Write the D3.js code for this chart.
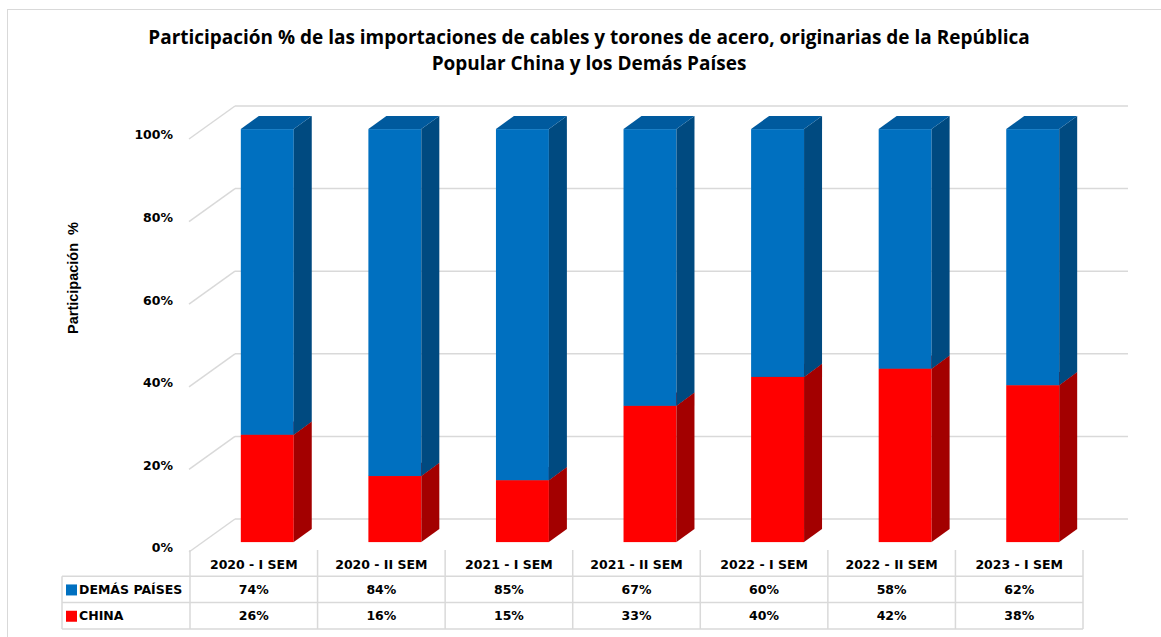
<!DOCTYPE html>
<html>
<head>
<meta charset="utf-8">
<script src="https://cdn.jsdelivr.net/npm/d3@7"></script>
<style>
  body { margin: 0; background: #fff; }
  svg { display: block; }
</style>
</head>
<body>
<div id="chart"></div>
<script>
var categories = ['2020 - I SEM', '2020 - II SEM', '2021 - I SEM', '2021 - II SEM', '2022 - I SEM', '2022 - II SEM', '2023 - I SEM'];
var china = [26, 16, 15, 33, 40, 42, 38];
var demas = [74, 84, 85, 67, 60, 58, 62];
var yTicks = [0, 20, 40, 60, 80, 100];
var titleLines = ['Participación % de las importaciones de cables y torones de acero, originarias de la República', 'Popular China y los Demás Países'];

var width = 1161;
var height = 637;

// front plane of the plot, plus the depth of the back wall
var plot = { left: 190, right: 1083, top: 139, bottom: 552 };
var depth = { x: 45, y: -33 };
var barDepth = { from: 0.3, to: 0.7 };
var grid = '#d9d9d9';

var svg = d3.select('#chart')
  .append('svg')
    .attr('width', width)
    .attr('height', height);

// chart frame
svg.append('rect')
  .attr('x', 7.5).attr('y', 9.5)
  .attr('width', width).attr('height', height)
  .attr('fill', 'none')
  .attr('stroke', grid)
  .attr('stroke-width', 1);

var xScale = d3.scaleBand()
  .domain(categories)
  .range([plot.left, plot.right])
  .paddingInner(0.585)
  .paddingOuter(0.2925);

var yScale = d3.scaleLinear()
  .domain([0, 100])
  .range([plot.bottom, plot.top]);

// title
var title = svg.append('g').attr('class', 'title');
title.selectAll('text')
  .data(titleLines)
  .enter()
  .append('text')
    .attr('x', 589)
    .attr('y', function (d, i) { return 44 + i * 26; })
    .attr('text-anchor', 'middle')
    .attr('font-family', 'Open Sans, sans-serif')
    .attr('font-weight', 'bold')
    .attr('font-size', 17)
    .attr('fill', '#000')
    .text(function (d) { return d; });

// fit first title line to the original width
var first = title.select('text').node();
var fs = 17 * 882 / first.getComputedTextLength();
title.selectAll('text').attr('font-size', fs);

// gridlines: back wall + left wall diagonals
var gridG = svg.append('g').attr('class', 'grid');

gridG.selectAll('.back')
  .data(yTicks)
  .enter()
  .append('line')
    .attr('x1', plot.left + depth.x)
    .attr('x2', plot.right + depth.x)
    .attr('y1', function (d) { return yScale(d) + depth.y; })
    .attr('y2', function (d) { return yScale(d) + depth.y; })
    .attr('stroke', grid)
    .attr('stroke-width', 1.5);

gridG.selectAll('.side')
  .data(yTicks)
  .enter()
  .append('line')
    .attr('x1', plot.left - 1)
    .attr('x2', plot.left + depth.x)
    .attr('y1', function (d) { return yScale(d); })
    .attr('y2', function (d) { return yScale(d) + depth.y; })
    .attr('stroke', grid)
    .attr('stroke-width', 1.5);

// y tick labels
svg.append('g')
  .selectAll('text')
  .data(yTicks)
  .enter()
  .append('text')
    .attr('x', 173)
    .attr('y', function (d) { return yScale(d) - 4; })
    .attr('dy', '0.35em')
    .attr('text-anchor', 'end')
    .attr('font-family', 'DejaVu Sans, sans-serif')
    .attr('font-weight', 'bold')
    .attr('font-size', 12.5)
    .text(function (d) { return d + '%'; });

svg.append('text')
  .attr('transform', 'translate(78,278) rotate(-90)')
  .attr('text-anchor', 'middle')
  .attr('font-family', 'Liberation Sans, sans-serif')
  .attr('font-weight', 'bold')
  .attr('font-size', 14.5)
  .attr('xml:space', 'preserve')
  .text('Participación  %');

// 3D stacked bars
var series = [
  { key: 'CHINA', values: china, front: '#ff0000', side: '#a30000', top: '#c00000' },
  { key: 'DEMÁS PAÍSES', values: demas, front: '#0070c0', side: '#004a80', top: '#005a9e' }
];

var fx = depth.x * barDepth.from, fy = depth.y * barDepth.from;
var bx = depth.x * (barDepth.to - barDepth.from), by = depth.y * (barDepth.to - barDepth.from);

var barsG = svg.append('g').attr('class', 'bars');

categories.forEach(function (cat, i) {
  var base = 0;
  var x0 = xScale(cat) + fx;
  var x1 = x0 + xScale.bandwidth();

  series.forEach(function (s) {
    var v0 = base, v1 = base + s.values[i];
    base = v1;
    var yb = yScale(v0) + fy, yt = yScale(v1) + fy;

    var g = barsG.append('g');

    g.append('rect')
      .attr('x', x0).attr('y', yt)
      .attr('width', x1 - x0).attr('height', yb - yt)
      .attr('fill', s.front);

    g.append('path')
      .attr('d', 'M' + x1 + ',' + yb + 'L' + (x1 + bx) + ',' + (yb + by) +
        'L' + (x1 + bx) + ',' + (yt + by) + 'L' + x1 + ',' + yt + 'Z')
      .attr('fill', s.side);

    g.append('path')
      .attr('d', 'M' + x0 + ',' + yt + 'L' + x1 + ',' + yt +
        'L' + (x1 + bx) + ',' + (yt + by) + 'L' + (x0 + bx) + ',' + (yt + by) + 'Z')
      .attr('fill', s.top);
  });
});

// data table
var rowTop = 550, rowH = 26.3;
var tableRows = [series[1], series[0]];
var tbl = svg.append('g').attr('class', 'table');
var step = xScale.step();

// horizontal borders
[1, 2, 3].forEach(function (r) {
  tbl.append('line')
    .attr('x1', 62).attr('x2', plot.right)
    .attr('y1', rowTop + r * rowH).attr('y2', rowTop + r * rowH)
    .attr('stroke', grid).attr('stroke-width', 1.5);
});

// vertical borders
d3.range(categories.length + 1).forEach(function (c) {
  tbl.append('line')
    .attr('x1', plot.left + c * step).attr('x2', plot.left + c * step)
    .attr('y1', rowTop).attr('y2', rowTop + 3 * rowH)
    .attr('stroke', grid).attr('stroke-width', 1.5);
});
tbl.append('line')
  .attr('x1', 62).attr('x2', 62)
  .attr('y1', rowTop + rowH).attr('y2', rowTop + 3 * rowH)
  .attr('stroke', grid).attr('stroke-width', 1.5);

// header labels
tbl.selectAll('.head')
  .data(categories)
  .enter()
  .append('text')
    .attr('x', function (d) { return xScale(d) + xScale.bandwidth() / 2; })
    .attr('y', rowTop + rowH / 2 + 1)
    .attr('dy', '0.35em')
    .attr('text-anchor', 'middle')
    .attr('font-family', 'DejaVu Sans, sans-serif')
    .attr('font-weight', 'bold')
    .attr('font-size', 12.5)
    .text(function (d) { return d; });

tableRows.forEach(function (s, r) {
  var cy = rowTop + (r + 1) * rowH + rowH / 2;

  tbl.append('rect')
    .attr('x', 66).attr('y', cy - 5)
    .attr('width', 11).attr('height', 11)
    .attr('fill', s.front);

  tbl.append('text')
    .attr('x', 79).attr('y', cy)
    .attr('dy', '0.35em')
    .attr('font-family', 'DejaVu Sans, sans-serif')
    .attr('font-weight', 'bold')
    .attr('font-size', 12.5)
    .text(s.key);

  tbl.selectAll('.v' + r)
    .data(s.values)
    .enter()
    .append('text')
      .attr('x', function (d, i) { return xScale(categories[i]) + xScale.bandwidth() / 2; })
      .attr('y', cy)
      .attr('dy', '0.35em')
      .attr('text-anchor', 'middle')
      .attr('font-family', 'DejaVu Sans, sans-serif')
      .attr('font-weight', 'bold')
      .attr('font-size', 12.5)
      .text(function (d) { return d + '%'; });
});
</script>
</body>
</html>
